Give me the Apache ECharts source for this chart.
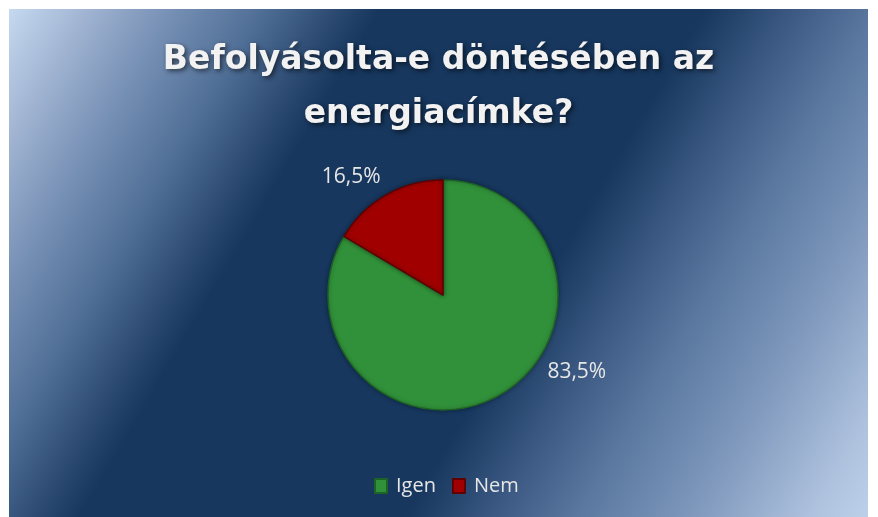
<!DOCTYPE html>
<html>
<head>
<meta charset="utf-8">
<script src="https://cdn.jsdelivr.net/npm/echarts@6/dist/echarts.min.js"></script>
<style>
  html, body { margin: 0; padding: 0; background: #fff; }
  #chart { position: absolute; left: 9px; top: 9px; width: 859px; height: 508px; }
</style>
</head>
<body>
<div id="chart"></div>
<script>
// adatok
const categories = ['Igen', 'Nem']
const values = [83.5, 16.5]
const colors = ['#31913a', '#a00000']
const borders = ['#1d6424', '#600000']
const titleText = 'Befolyásolta-e döntésében az\nenergiacímke?'

const chartDom = document.getElementById('chart')
const chart = echarts.init(chartDom)

const pieData = categories.map((name, i) => ({
  name: name,
  value: values[i],
  itemStyle: { color: colors[i], borderColor: borders[i] }
}))

const options = {
  backgroundColor: {
    type: 'linear', x: 0, y: 0, x2: 1, y2: 1,
    colorStops: [
      { offset: 0, color: '#c6d9f1' },
      { offset: 0.06, color: '#a5b8d5' },
      { offset: 0.14, color: '#7790b5' },
      { offset: 0.22, color: '#4f6e96' },
      { offset: 0.28, color: '#2d4b73' },
      { offset: 0.32, color: '#17375e' },
      { offset: 0.6, color: '#17375e' },
      { offset: 0.67, color: '#38567f' },
      { offset: 0.75, color: '#5a78a0' },
      { offset: 0.85, color: '#8099bd' },
      { offset: 0.95, color: '#aec2de' },
      { offset: 1, color: '#bcd0ea' }
    ]
  },
  title: {
    text: titleText,
    left: 'center',
    top: 19,
    textStyle: {
      color: '#f2f2f2',
      fontFamily: 'DejaVu Sans',
      fontWeight: 'bold',
      fontSize: 33,
      lineHeight: 54,
      textShadowColor: 'rgba(0,0,0,0.6)',
      textShadowBlur: 5,
      textShadowOffsetX: 2,
      textShadowOffsetY: 2
    }
  },
  legend: {
    data: categories,
    bottom: 16,
    left: 360,
    icon: 'rect',
    itemWidth: 12,
    itemHeight: 14,
    itemGap: 16,
    textStyle: { color: '#e6e6e6', fontFamily: 'Open Sans', fontSize: 20, padding: [0, 0, 0, 4] }
  },
  series: [{
    type: 'pie',
    center: [434, 286],
    radius: 115,
    startAngle: 90,
    clockwise: true,
    data: pieData,
    itemStyle: { borderWidth: 1.5, shadowBlur: 4, shadowColor: 'rgba(0,0,0,0.35)' },
    label: {
      show: true,
      position: 'outside',
      formatter: p => p.value.toFixed(1).replace('.', ',') + '%',
      color: '#e6e6e6',
      fontFamily: 'Open Sans',
      fontSize: 21
    },
    labelLine: { show: false },
    labelLayout: p => p.dataIndex === 1 ? { dx: 37, dy: -5 } : { dx: 5, dy: -36 },
    emphasis: { disabled: true }
  }]
}

chart.setOption(options, true)
window.addEventListener('resize', () => chart.resize())
</script>
</body>
</html>
